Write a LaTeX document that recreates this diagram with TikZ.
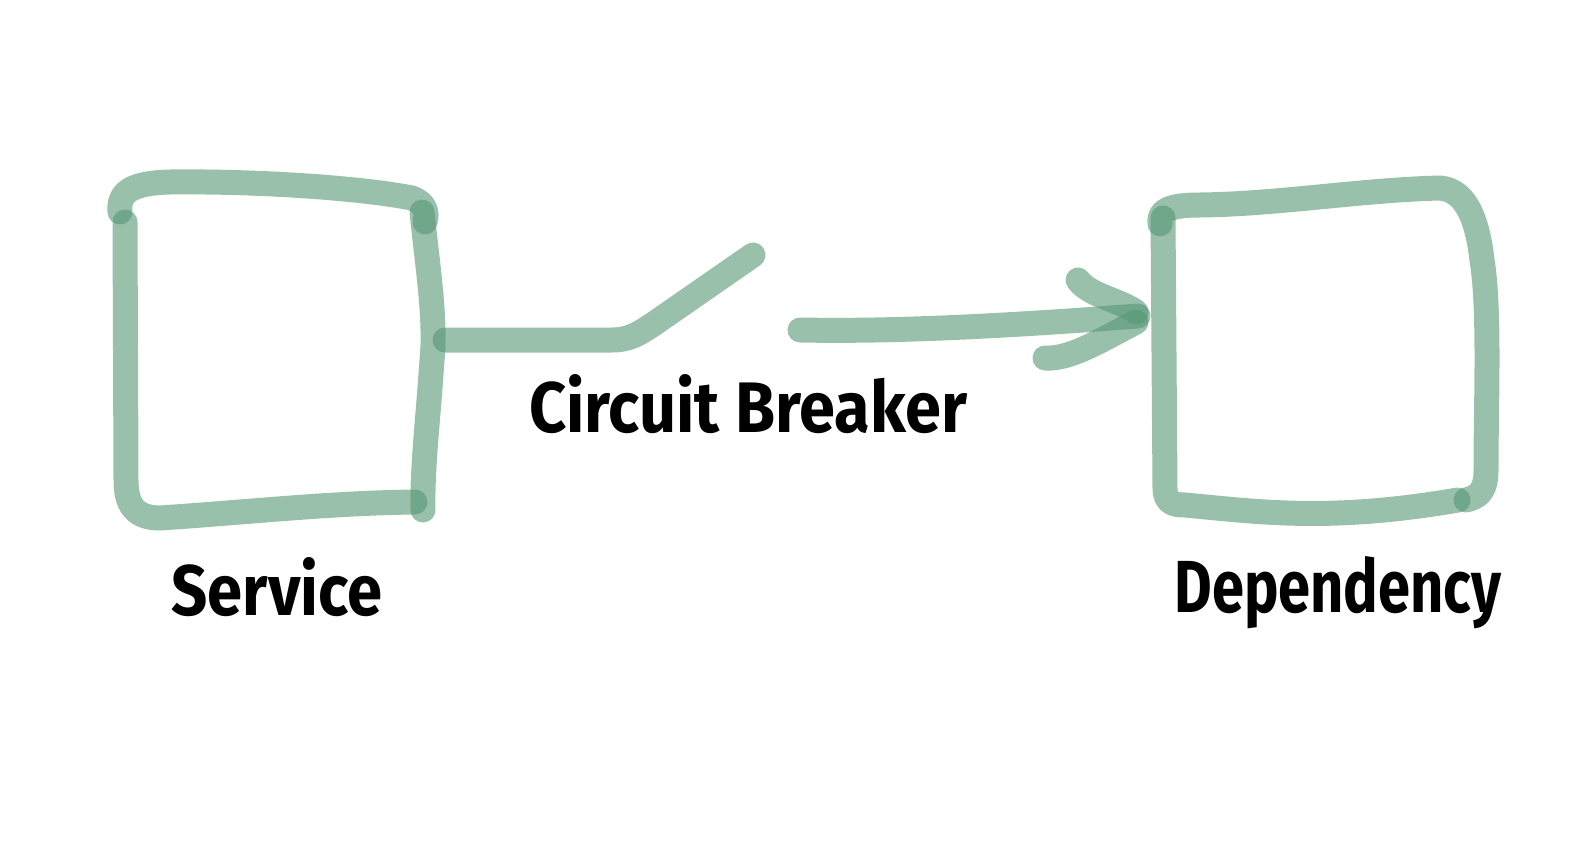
\documentclass[tikz,border=0pt]{standalone}
\usepackage{fontspec}
\setmainfont{Fira Sans}
\usepackage{graphicx}
\definecolor{pen}{RGB}{85,150,115}
\tikzset{
  brush/.style={draw=pen, draw opacity=0.6, line width=25pt, line cap=round, line join=round},
  lbl/.style={inner sep=0pt, text=black}
}
\begin{document}
\begin{tikzpicture}[x=1pt,y=-1pt]
\useasboundingbox (0,0) rectangle (1570,853);
% Service box
\draw[brush] (120,212) .. controls (118,190) and (135,183) .. (170,182)
  .. controls (260,181) and (360,188) .. (412,198) .. controls (425,203) and (428,212) .. (425,222);
\draw[brush] (422,212) .. controls (428,270) and (436,320) .. (432,360) .. controls (428,420) and (422,470) .. (423,510);
\draw[brush] (125,222) -- (126,480) .. controls (126,505) and (135,518) .. (160,518)
  .. controls (250,512) and (330,503) .. (415,502);
% Dependency box
\draw[brush] (1160,224) .. controls (1158,210) and (1170,205) .. (1200,205)
  .. controls (1280,204) and (1360,190) .. (1440,188) .. controls (1468,190) and (1478,225) .. (1482,260)
  .. controls (1490,310) and (1486,400) .. (1486,470) .. controls (1486,492) and (1478,497) .. (1466,500);
\draw[brush] (1163,218) -- (1165,490) .. controls (1166,502) and (1172,505) .. (1185,505)
  .. controls (1260,512) and (1330,522) .. (1458,500);
% switch
\draw[brush] (445,340) -- (612,340) .. controls (630,340) and (640,333) .. (655,323) -- (753,255);
% arrow
\draw[brush] (800,330) .. controls (900,332) and (1020,325) .. (1138,316);
\draw[brush] (1078,280) .. controls (1090,296) and (1120,300) .. (1136,312);
\draw[brush] (1045,358) .. controls (1070,360) and (1105,338) .. (1136,322);
% labels
\node[lbl, anchor=base] (cb) at (748,432) {\resizebox{438pt}{58pt}{\bfseries Circuit Breaker}};
\node[lbl, anchor=base] (sv) at (277,615) {\resizebox{211pt}{58pt}{\bfseries Service}};
\node[lbl, anchor=base] (dp) at (1338,612) {\resizebox{327pt}{56pt}{\bfseries Dependency}};
\end{tikzpicture}
\end{document}
